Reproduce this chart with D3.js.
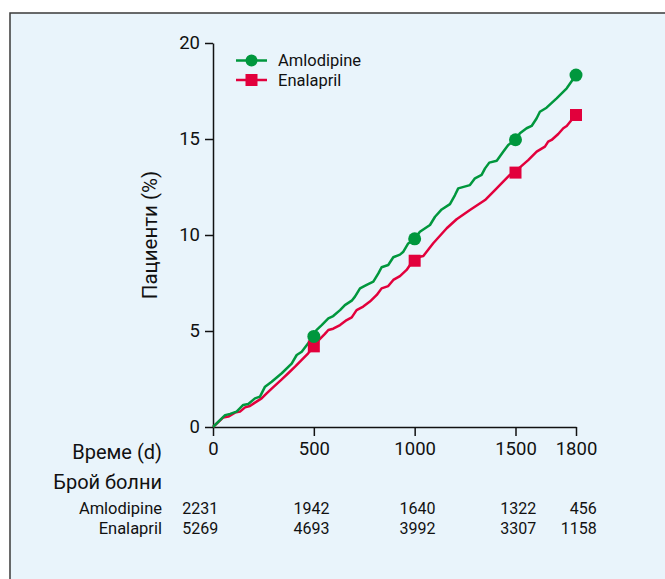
<!DOCTYPE html>
<html>
<head>
<meta charset="utf-8">
<script src="https://cdn.jsdelivr.net/npm/d3@7"></script>
<style>
  body { margin: 0; background: #fff; }
  text { font-family: Roboto, "Open Sans", sans-serif; fill: #111; }
</style>
</head>
<body>
<div id="chart"></div>
<script>
var w = 665;
var h = 579;

// Data
var seriesNames = ["Amlodipine", "Enalapril"];

var amloDays = [0, 60, 85, 117, 150, 175, 208, 233, 258, 291, 341, 390, 415, 440, 472, 500,
  513, 539, 572, 596, 630, 654, 688, 704, 729, 762, 795, 820, 836, 869, 894, 927, 944, 968, 1000,
  1026, 1076, 1101, 1134, 1175, 1200, 1216, 1274, 1299, 1332, 1349, 1370, 1407, 1439, 1464, 1500,
  1522, 1555, 1580, 1605, 1621, 1654, 1704, 1754, 1800];
var amloPct = [0, 0.62, 0.68, 0.8, 1.15, 1.2, 1.49, 1.58, 2.1, 2.36, 2.8, 3.3, 3.75, 3.92, 4.36, 4.72,
  5.05, 5.31, 5.66, 5.78, 6.09, 6.35, 6.58, 6.79, 7.22, 7.4, 7.57, 8.0, 8.32, 8.44, 8.84, 8.98, 9.13, 9.56, 9.8,
  10.17, 10.52, 10.95, 11.33, 11.61, 12.08, 12.43, 12.6, 12.95, 13.13, 13.47, 13.77, 13.87, 14.34, 14.69, 14.96,
  15.3, 15.56, 15.68, 16.08, 16.42, 16.63, 17.12, 17.64, 18.33];

var enalDays = [0, 51, 76, 109, 134, 159, 183, 208, 241, 266, 291, 341, 373, 407, 440, 472, 500,
  522, 555, 572, 596, 630, 663, 688, 712, 745, 778, 812, 836, 869, 894, 927, 960, 977, 1000,
  1026, 1043, 1092, 1159, 1208, 1274, 1349, 1398, 1439, 1472, 1500,
  1522, 1563, 1605, 1646, 1662, 1679, 1712, 1737, 1754, 1778, 1800];
var enalPct = [0, 0.5, 0.54, 0.75, 0.8, 1.02, 1.09, 1.27, 1.49, 1.75, 2.0, 2.48, 2.8, 3.14, 3.49, 3.84, 4.2,
  4.5, 4.85, 5.05, 5.12, 5.31, 5.57, 5.71, 6.09, 6.27, 6.53, 6.88, 7.22, 7.34, 7.66, 7.86, 8.18, 8.44, 8.66,
  8.87, 8.91, 9.57, 10.35, 10.82, 11.3, 11.82, 12.34, 12.78, 13.13, 13.25,
  13.52, 13.9, 14.34, 14.6, 14.86, 14.95, 15.26, 15.56, 15.68, 15.99, 16.25];

var markerDays = [500, 1000, 1500, 1800];
var xTicks = [0, 500, 1000, 1500, 1800];
var yTicks = [0, 5, 10, 15, 20];
var amloAtRisk = [2231, 1942, 1640, 1322, 456];
var enalAtRisk = [5269, 4693, 3992, 3307, 1158];

var green = "#00973d";
var red = "#e2003c";

var svg = d3
  .select("#chart")
  .append("svg")
  .attr("width", w)
  .attr("height", h);

// Panel background
svg
  .append("rect")
  .attr("x", 10)
  .attr("y", 13)
  .attr("width", w + 20)
  .attr("height", h + 20)
  .attr("fill", "#e9f4fb")
  .attr("stroke", "#3a3a3a")
  .attr("stroke-width", 1.5);

// Scales
const xScale = d3.scaleLinear().domain([0, 1800]).range([213, 576]);
const yScale = d3.scaleLinear().domain([0, 20]).range([427, 43]);

// Axes
var yAxis = svg
  .append("g")
  .attr("transform", "translate(" + xScale(0) + ",0)")
  .call(d3.axisLeft(yScale).tickValues(yTicks).tickSize(8).tickSizeOuter(0).tickPadding(5));

var xAxis = svg
  .append("g")
  .attr("transform", "translate(0," + yScale(0) + ")")
  .call(d3.axisBottom(xScale).tickValues(xTicks).tickFormat(d3.format("d"))
    .tickSize(9).tickSizeOuter(0).tickPadding(6));

[yAxis, xAxis].forEach(function (g) {
  g.selectAll("path, line").attr("stroke", "#111").attr("stroke-width", 1.5);
  g.selectAll("text")
    .style("font-family", 'Roboto, "Open Sans", sans-serif')
    .style("font-size", "18.5px")
    .attr("fill", "#111");
});

// Y axis title
svg
  .append("text")
  .attr("transform", "translate(157,235) rotate(-90)")
  .attr("text-anchor", "middle")
  .style("font-size", "20.5px")
  .text("Пациенти (%)");

// Lines
var line = d3
  .line()
  .x(function (d) { return xScale(d[0]); })
  .y(function (d) { return yScale(d[1]); });

var enalData = d3.zip(enalDays, enalPct);
var amloData = d3.zip(amloDays, amloPct);

svg.append("path").datum(enalData).attr("d", line)
  .attr("fill", "none").attr("stroke", red).attr("stroke-width", 2.5).attr("stroke-linejoin", "round");
svg.append("path").datum(amloData).attr("d", line)
  .attr("fill", "none").attr("stroke", green).attr("stroke-width", 2.5).attr("stroke-linejoin", "round");

// Markers
function valueAt(days, pct, d) {
  return pct[days.indexOf(d)];
}

svg.selectAll(".sq")
  .data(markerDays)
  .enter()
  .append("rect")
  .attr("x", function (d) { return xScale(d) - 6; })
  .attr("y", function (d) { return yScale(valueAt(enalDays, enalPct, d)) - 6; })
  .attr("width", 12)
  .attr("height", 12)
  .attr("fill", red);

svg.selectAll(".dot")
  .data(markerDays)
  .enter()
  .append("circle")
  .attr("cx", function (d) { return xScale(d); })
  .attr("cy", function (d) { return yScale(valueAt(amloDays, amloPct, d)); })
  .attr("r", 6.5)
  .attr("fill", green);

// Legend
var legend = svg.append("g").attr("transform", "translate(236,60.5)");
seriesNames.forEach(function (name, i) {
  var col = i === 0 ? green : red;
  var g = legend.append("g").attr("transform", "translate(0," + i * 19.5 + ")");
  g.append("line").attr("x1", 0).attr("x2", 31).attr("stroke", col).attr("stroke-width", 2.5);
  if (i === 0) {
    g.append("circle").attr("cx", 15.5).attr("r", 6).attr("fill", col);
  } else {
    g.append("rect").attr("x", 9.5).attr("y", -6).attr("width", 12).attr("height", 12).attr("fill", col);
  }
  g.append("text").attr("x", 42).attr("dy", "0.35em").style("font-size", "16.5px").text(name);
});

// Row labels under x axis
svg.append("text").attr("x", 162).attr("y", 452).attr("dy", "0.35em")
  .attr("text-anchor", "end").style("font-size", "20px").text("Време (d)");
svg.append("text").attr("x", 162).attr("y", 482).attr("dy", "0.35em")
  .attr("text-anchor", "end").style("font-size", "20px").text("Брой болни");

// Right edge of each tick label, to line up the at-risk numbers
var tickRight = [];
xAxis.selectAll(".tick text").each(function (d, i) {
  var len = this.getComputedTextLength();
  tickRight[i] = xScale(d) + len / 2;
});

var rows = [
  { name: seriesNames[0], values: amloAtRisk, y: 508 },
  { name: seriesNames[1], values: enalAtRisk, y: 528 }
];
rows.forEach(function (r) {
  svg.append("text").attr("x", 162).attr("y", r.y).attr("dy", "0.35em")
    .attr("text-anchor", "end").style("font-size", "16.5px").text(r.name);
  svg.selectAll(null)
    .data(r.values)
    .enter()
    .append("text")
    .attr("x", function (d, i) { return tickRight[i]; })
    .attr("y", r.y)
    .attr("dy", "0.35em")
    .attr("text-anchor", "end")
    .style("font-size", "16px")
    .text(function (d) { return d; });
});
</script>
</body>
</html>
